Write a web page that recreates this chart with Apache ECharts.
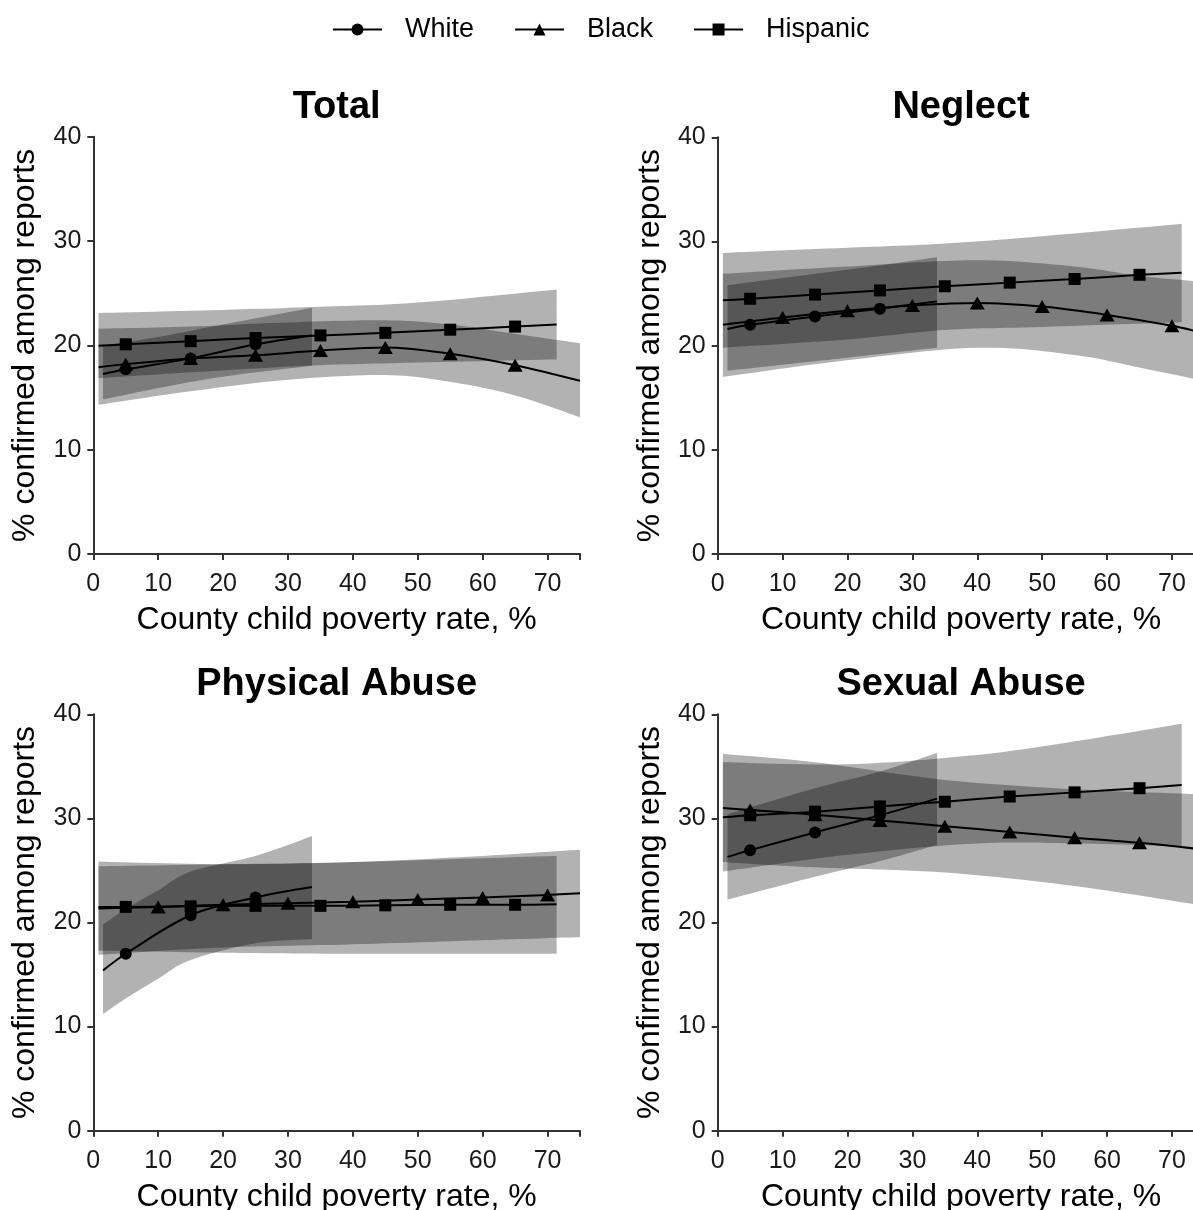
<!DOCTYPE html>
<html>
<head>
<meta charset="utf-8">
<script src="https://cdn.jsdelivr.net/npm/echarts@6.0.0/dist/echarts.min.js"></script>
<style>
  html, body { margin: 0; padding: 0; background: #ffffff; }
  #chart { width: 1193px; height: 1210px; }
</style>
</head>
<body>
<div id="chart"></div>
<script>
// ---- text ----
const panelTitles = ['Total', 'Neglect', 'Physical Abuse', 'Sexual Abuse'];
const groupNames = ['White', 'Black', 'Hispanic'];
const xTitle = 'County child poverty rate, %';
const yTitle = '% confirmed among reports';
const xTicks = [0, 10, 20, 30, 40, 50, 60, 70];
const yTicks = [0, 10, 20, 30, 40];

// ---- Total ----  fitted curve [x, y]; marker positions; band [x, lower, upper]
const tWhiteLine = [[1.5, 17.25], [5, 17.7], [15, 18.75], [25, 20.1], [33.7, 20.95]];
const tWhiteMarks = [5, 15, 25];
const tWhiteBand = [[1.5, 14.8, 20.0], [10, 15.9, 20.8], [20, 17.0, 22.0], [33.7, 18.05, 23.6]];
const tBlackLine = [[0.8, 17.9], [5, 18.2], [15, 18.75], [25, 19.05], [35, 19.5], [45, 19.8], [55, 19.2], [65, 18.1], [75, 16.6]];
const tBlackMarks = [5, 15, 25, 35, 45, 55, 65];
const tBlackBand = [[0.8, 14.3, 21.6], [15, 15.6, 21.8], [30, 16.7, 22.2], [45, 17.15, 22.4], [55, 16.5, 22.0], [65, 15.2, 21.1], [75, 13.1, 20.2]];
const tHispLine = [[0.8, 19.95], [5, 20.1], [15, 20.4], [25, 20.7], [35, 20.95], [45, 21.2], [55, 21.5], [65, 21.8], [71.4, 22.0]];
const tHispMarks = [5, 15, 25, 35, 45, 55, 65];
const tHispBand = [[0.8, 16.85, 23.1], [20, 17.6, 23.4], [35, 18.1, 23.7], [50, 18.35, 24.1], [71.4, 18.65, 25.35]];

// ---- Neglect ----
const nWhiteLine = [[1.5, 21.6], [5, 22.0], [15, 22.8], [25, 23.55], [33.8, 24.25]];
const nWhiteMarks = [5, 15, 25];
const nWhiteBand = [[1.5, 17.6, 25.8], [15, 18.5, 26.9], [25, 19.2, 27.7], [33.8, 19.8, 28.5]];
const nBlackLine = [[0.8, 22.0], [10, 22.7], [20, 23.35], [30, 23.85], [40, 24.1], [50, 23.75], [60, 22.95], [70, 21.9], [75, 21.2]];
const nBlackMarks = [10, 20, 30, 40, 50, 60, 70];
const nBlackBand = [[0.8, 17.0, 26.9], [20, 18.6, 27.6], [40, 19.8, 28.2], [55, 19.1, 27.6], [65, 17.9, 26.7], [75, 16.6, 26.1]];
const nHispLine = [[0.8, 24.35], [5, 24.5], [15, 24.9], [25, 25.3], [35, 25.7], [45, 26.05], [55, 26.4], [65, 26.8], [71.5, 27.0]];
const nHispMarks = [5, 15, 25, 35, 45, 55, 65];
const nHispBand = [[0.8, 19.8, 28.9], [20, 20.6, 29.4], [35, 21.5, 29.8], [50, 21.8, 30.5], [71.5, 22.25, 31.7]];

// ---- Physical Abuse ----
const pWhiteLine = [[1.5, 15.4], [5, 17.0], [15, 20.7], [25, 22.4], [33.7, 23.4]];
const pWhiteMarks = [5, 15, 25];
const pWhiteBand = [[1.5, 11.2, 19.8], [5, 12.7, 21.3], [10, 14.6, 23.1], [15, 16.4, 24.9], [25, 18.0, 26.4], [33.7, 18.4, 28.3]];
const pBlackLine = [[0.8, 21.35], [10, 21.5], [20, 21.7], [30, 21.85], [40, 22.0], [50, 22.2], [60, 22.4], [70, 22.65], [75, 22.8]];
const pBlackMarks = [10, 20, 30, 40, 50, 60, 70];
const pBlackBand = [[0.8, 16.9, 25.85], [20, 17.6, 25.6], [40, 17.9, 25.8], [60, 18.3, 26.4], [75, 18.6, 27.0]];
const pHispLine = [[0.8, 21.5], [5, 21.5], [15, 21.55], [25, 21.6], [35, 21.6], [45, 21.65], [55, 21.7], [65, 21.7], [71.4, 21.75]];
const pHispMarks = [5, 15, 25, 35, 45, 55, 65];
const pHispBand = [[0.8, 17.3, 25.4], [20, 17.1, 25.6], [40, 17.0, 25.8], [71.4, 17.0, 26.4]];

// ---- Sexual Abuse ----
const sWhiteLine = [[1.5, 26.3], [5, 26.95], [15, 28.65], [25, 30.3], [33.8, 31.9]];
const sWhiteMarks = [5, 15, 25];
const sWhiteBand = [[1.5, 22.2, 30.4], [15, 24.4, 32.9], [25, 25.9, 34.5], [33.8, 27.45, 36.3]];
const sBlackLine = [[0.8, 31.0], [5, 30.8], [15, 30.35], [25, 29.8], [35, 29.25], [45, 28.7], [55, 28.15], [65, 27.65], [75, 27.0]];
const sBlackMarks = [5, 15, 25, 35, 45, 55, 65];
const sBlackBand = [[0.8, 25.8, 36.2], [15, 25.3, 35.4], [35, 24.8, 33.7], [55, 23.5, 32.8], [75, 21.6, 32.3]];
const sHispLine = [[0.8, 30.1], [5, 30.3], [15, 30.65], [25, 31.15], [35, 31.6], [45, 32.1], [55, 32.5], [65, 32.9], [71.5, 33.2]];
const sHispMarks = [5, 15, 25, 35, 45, 55, 65];
const sHispBand = [[0.8, 24.9, 35.4], [20, 26.5, 35.2], [40, 27.6, 36.1], [55, 27.6, 37.4], [71.5, 27.3, 39.1]];

// ---- layout ----
const FONT = '"Liberation Sans", Arial, Helvetica, sans-serif';
const INK = '#1a1a1a';
const AXIS = '#333333';
const BAND_FILL = 'rgba(0,0,0,0.3)';
const PLOT_W = 486.7;
const grids = [
  { left: 93.3, top: 136.7, width: PLOT_W, height: 417.3 },
  { left: 717.7, top: 137.3, width: PLOT_W, height: 416.7 },
  { left: 93.3, top: 714.3, width: PLOT_W, height: 416.4 },
  { left: 717.7, top: 714.3, width: PLOT_W, height: 416.4 }
];
const symbols = {
  White: { symbol: 'circle', size: 12 },
  Black: { symbol: 'triangle', size: [15, 13] },
  Hispanic: { symbol: 'rect', size: 12 }
};

const panelSets = [
  [[tWhiteLine, tWhiteMarks, tWhiteBand], [tBlackLine, tBlackMarks, tBlackBand], [tHispLine, tHispMarks, tHispBand]],
  [[nWhiteLine, nWhiteMarks, nWhiteBand], [nBlackLine, nBlackMarks, nBlackBand], [nHispLine, nHispMarks, nHispBand]],
  [[pWhiteLine, pWhiteMarks, pWhiteBand], [pBlackLine, pBlackMarks, pBlackBand], [pHispLine, pHispMarks, pHispBand]],
  [[sWhiteLine, sWhiteMarks, sWhiteBand], [sBlackLine, sBlackMarks, sBlackBand], [sHispLine, sHispMarks, sHispBand]]
];

// Catmull-Rom pass through projected pixel points so band edges curve like the fitted lines
function splinePixels(pts, steps) {
  const out = [];
  const n = pts.length;
  for (let i = 0; i < n - 1; i++) {
    const p0 = pts[Math.max(i - 1, 0)];
    const p1 = pts[i];
    const p2 = pts[i + 1];
    const p3 = pts[Math.min(i + 2, n - 1)];
    for (let s = 0; s < steps; s++) {
      const t = s / steps, t2 = t * t, t3 = t2 * t;
      const c = k => 0.5 * (2 * p1[k] + (-p0[k] + p2[k]) * t +
        (2 * p0[k] - 5 * p1[k] + 4 * p2[k] - p3[k]) * t2 +
        (-p0[k] + 3 * p1[k] - 3 * p2[k] + p3[k]) * t3);
      out.push([c(0), c(1)]);
    }
  }
  out.push(pts[n - 1].slice());
  return out;
}

function bandRenderer(band) {
  return function (params, api) {
    if (params.dataIndex !== 0) return null;
    const upper = band.map(p => api.coord([p[0], p[2]]));
    const lower = band.map(p => api.coord([p[0], p[1]]));
    const points = splinePixels(upper, 12).concat(splinePixels(lower, 12).reverse());
    return {
      type: 'polygon',
      shape: { points: points },
      style: { fill: BAND_FILL, stroke: null },
      silent: true
    };
  };
}

const series = [];
const xAxes = [];
const yAxes = [];
const graphics = [];

panelSets.forEach((sets, gi) => {
  const g = grids[gi];
  xAxes.push({
    gridIndex: gi, type: 'value', min: 0, max: 75, interval: 10,
    axisLine: { show: true, onZero: false, lineStyle: { color: AXIS, width: 2 } },
    axisTick: { show: true, length: 6, lineStyle: { color: AXIS, width: 2 } },
    axisLabel: { fontSize: 25, color: INK, fontFamily: FONT, margin: 18, customValues: xTicks },
    splitLine: { show: false },
    name: xTitle, nameLocation: 'middle', nameGap: 50,
    nameTextStyle: { fontSize: 32, color: '#000', fontFamily: FONT }
  });
  yAxes.push({
    gridIndex: gi, type: 'value', min: 0, max: 40, interval: 10,
    axisLine: { show: true, onZero: false, lineStyle: { color: AXIS, width: 2 } },
    axisTick: { show: true, length: 6, lineStyle: { color: AXIS, width: 2 } },
    axisLabel: { fontSize: 25, color: INK, fontFamily: FONT, margin: 12, customValues: yTicks },
    splitLine: { show: false },
    name: yTitle, nameLocation: 'middle', nameGap: 52, nameRotate: 90,
    nameTextStyle: { fontSize: 32, color: '#000', fontFamily: FONT }
  });
  graphics.push({
    type: 'text', x: g.left + PLOT_W / 2, y: gi < 2 ? 108 : 685,
    style: { text: panelTitles[gi], font: 'bold 38px ' + FONT, fill: '#000', align: 'center', verticalAlign: 'middle' }
  });

  sets.forEach((set, k) => {
    const name = groupNames[k];
    const [line, marks, band] = set;
    // confidence band
    series.push({
      type: 'custom', name: name + ' band', coordinateSystem: 'cartesian2d',
      xAxisIndex: gi, yAxisIndex: gi, z: 1, silent: true,
      renderItem: bandRenderer(band),
      data: band
    });
    // fitted curve with markers at the sampled poverty rates
    series.push({
      type: 'line', name: name, xAxisIndex: gi, yAxisIndex: gi,
      smooth: 0.35, z: 3, silent: true,
      symbol: symbols[name].symbol, symbolSize: symbols[name].size,
      showSymbol: true, showAllSymbol: true,
      lineStyle: { color: '#000', width: 2 },
      itemStyle: { color: '#000' },
      data: line.map(p => marks.indexOf(p[0]) >= 0 ? { value: p } : { value: p, symbol: 'none' })
    });
  });
});

const chart = echarts.init(document.getElementById('chart'), null, { renderer: 'canvas' });
chart.setOption({
  animation: false,
  backgroundColor: '#ffffff',
  textStyle: { fontFamily: FONT },
  grid: grids.map(g => Object.assign({ containLabel: false, outerBoundsMode: 'none' }, g)),
  xAxis: xAxes,
  yAxis: yAxes,
  legend: {
    data: groupNames, top: 11, left: 327,
    itemWidth: 49, itemHeight: 15, itemGap: 40,
    textStyle: { fontSize: 27, color: '#000', fontFamily: FONT, padding: [0, 0, 0, 18] },
    selectedMode: false
  },
  graphic: graphics,
  series: series
});
</script>
</body>
</html>
